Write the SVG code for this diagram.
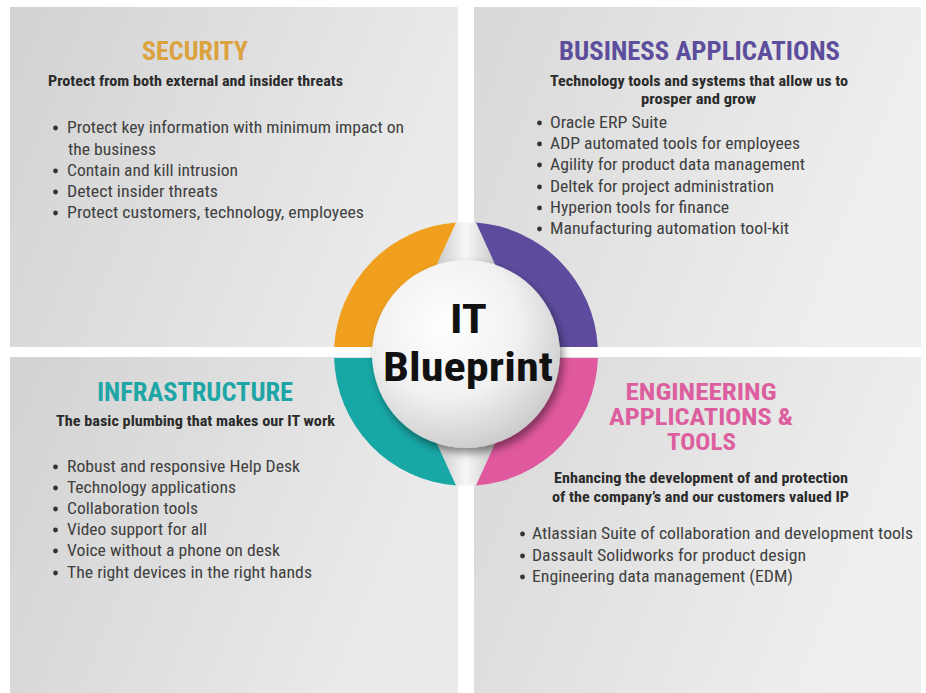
<svg xmlns="http://www.w3.org/2000/svg" width="926" height="693" viewBox="0 0 926 693">
  <style>
    text { font-family: 'Liberation Sans Narrow', 'Roboto Condensed', 'Liberation Sans', Roboto, sans-serif; }
    .h { font-size: 25px; font-weight: bold; text-anchor: middle; }
    .h2 { font-size: 23px; font-weight: bold; text-anchor: middle; fill: #dc5e9e; }
    .sub { font-size: 15px; font-weight: bold; fill: #2b2b2b; text-anchor: middle; }
    .li { font-size: 16px; fill: #404040; }
    .dot { fill: #333333; }
    .hub { font-size: 41px; font-weight: bold; fill: #111111; text-anchor: middle; }
  </style>
  <defs>
    <linearGradient id="panelL" x1="0" y1="0" x2="1" y2="0.3">
      <stop offset="0" stop-color="#d2d2d2"/>
      <stop offset="1" stop-color="#ebebeb"/>
    </linearGradient>
    <linearGradient id="panelR" x1="0" y1="0" x2="1" y2="0.3">
      <stop offset="0" stop-color="#d8d8d8"/>
      <stop offset="1" stop-color="#efefef"/>
    </linearGradient>
    <radialGradient id="ball" cx="0.4" cy="0.35" r="0.7">
      <stop offset="0" stop-color="#ffffff"/>
      <stop offset="0.55" stop-color="#f1f1f1"/>
      <stop offset="1" stop-color="#c9c9c9"/>
    </radialGradient>
    <linearGradient id="wedge" x1="0" y1="0" x2="1" y2="0">
      <stop offset="0" stop-color="#c8c8c8"/>
      <stop offset="0.5" stop-color="#f7f7f7"/>
      <stop offset="1" stop-color="#c8c8c8"/>
    </linearGradient>
    <filter id="shadow" x="-20%" y="-20%" width="150%" height="150%">
      <feDropShadow dx="3" dy="5" stdDeviation="4" flood-color="#000000" flood-opacity="0.45"/>
    </filter>
  </defs>

  <rect x="0" y="0" width="926" height="693" fill="#ffffff"/>

  <g id="security">
    <rect x="10" y="7" width="448" height="340" fill="url(#panelL)"/>
    <text class="h" x="195" y="60" fill="#dba23e" textLength="106" lengthAdjust="spacingAndGlyphs">SECURITY</text>
    <text class="sub" x="195.5" y="86" textLength="295" lengthAdjust="spacingAndGlyphs">Protect from both external and insider threats</text>
    <circle class="dot" cx="55.5" cy="128" r="2.4"/>
    <text class="li" x="67" y="133" textLength="337" lengthAdjust="spacingAndGlyphs">Protect key information with minimum impact on</text>
    <text class="li" x="68" y="155" textLength="88" lengthAdjust="spacingAndGlyphs">the business</text>
    <circle class="dot" cx="55.5" cy="171" r="2.4"/>
    <text class="li" x="67" y="176" textLength="171" lengthAdjust="spacingAndGlyphs">Contain and kill intrusion</text>
    <circle class="dot" cx="55.5" cy="192" r="2.4"/>
    <text class="li" x="67" y="197" textLength="151" lengthAdjust="spacingAndGlyphs">Detect insider threats</text>
    <circle class="dot" cx="55.5" cy="213" r="2.4"/>
    <text class="li" x="67" y="218" textLength="297" lengthAdjust="spacingAndGlyphs">Protect customers, technology, employees</text>
  </g>

  <g id="business-applications">
    <rect x="474" y="7" width="447" height="340" fill="url(#panelR)"/>
    <text class="h" x="699.5" y="60" fill="#5c4e9c" textLength="281" lengthAdjust="spacingAndGlyphs">BUSINESS APPLICATIONS</text>
    <text class="sub" x="699" y="86" textLength="298" lengthAdjust="spacingAndGlyphs">Technology tools and systems that allow us to</text>
    <text class="sub" x="698.5" y="104" textLength="115" lengthAdjust="spacingAndGlyphs">prosper and grow</text>
    <circle class="dot" cx="539.5" cy="123" r="2.4"/>
    <text class="li" x="550" y="128" textLength="117" lengthAdjust="spacingAndGlyphs">Oracle ERP Suite</text>
    <circle class="dot" cx="539.5" cy="144" r="2.4"/>
    <text class="li" x="550" y="149" textLength="250" lengthAdjust="spacingAndGlyphs">ADP automated tools for employees</text>
    <circle class="dot" cx="539.5" cy="165" r="2.4"/>
    <text class="li" x="550" y="170" textLength="255" lengthAdjust="spacingAndGlyphs">Agility for product data management</text>
    <circle class="dot" cx="539.5" cy="187" r="2.4"/>
    <text class="li" x="550" y="192" textLength="224" lengthAdjust="spacingAndGlyphs">Deltek for project administration</text>
    <circle class="dot" cx="539.5" cy="208" r="2.4"/>
    <text class="li" x="550" y="213" textLength="179" lengthAdjust="spacingAndGlyphs">Hyperion tools for finance</text>
    <circle class="dot" cx="539.5" cy="229" r="2.4"/>
    <text class="li" x="550" y="234" textLength="239" lengthAdjust="spacingAndGlyphs">Manufacturing automation tool-kit</text>
  </g>

  <g id="infrastructure">
    <rect x="10" y="357" width="448" height="336" fill="url(#panelL)"/>
    <text class="h" x="195" y="401" fill="#1ea6a6" textLength="196" lengthAdjust="spacingAndGlyphs">INFRASTRUCTURE</text>
    <text class="sub" x="195.5" y="426" textLength="279" lengthAdjust="spacingAndGlyphs">The basic plumbing that makes our IT work</text>
    <circle class="dot" cx="55.5" cy="467" r="2.4"/>
    <text class="li" x="67" y="472" textLength="233" lengthAdjust="spacingAndGlyphs">Robust and responsive Help Desk</text>
    <circle class="dot" cx="55.5" cy="488" r="2.4"/>
    <text class="li" x="67" y="493" textLength="169" lengthAdjust="spacingAndGlyphs">Technology applications</text>
    <circle class="dot" cx="55.5" cy="509" r="2.4"/>
    <text class="li" x="67" y="514" textLength="131" lengthAdjust="spacingAndGlyphs">Collaboration tools</text>
    <circle class="dot" cx="55.5" cy="530" r="2.4"/>
    <text class="li" x="67" y="535" textLength="140" lengthAdjust="spacingAndGlyphs">Video support for all</text>
    <circle class="dot" cx="55.5" cy="551" r="2.4"/>
    <text class="li" x="67" y="556" textLength="213" lengthAdjust="spacingAndGlyphs">Voice without a phone on desk</text>
    <circle class="dot" cx="55.5" cy="573" r="2.4"/>
    <text class="li" x="67" y="578" textLength="245" lengthAdjust="spacingAndGlyphs">The right devices in the right hands</text>
  </g>

  <g id="engineering-applications">
    <rect x="474" y="357" width="447" height="336" fill="url(#panelR)"/>
    <text class="h2" x="701" y="400" textLength="151" lengthAdjust="spacingAndGlyphs">ENGINEERING</text>
    <text class="h2" x="701" y="425" textLength="184" lengthAdjust="spacingAndGlyphs">APPLICATIONS &amp;</text>
    <text class="h2" x="701.5" y="450" textLength="69" lengthAdjust="spacingAndGlyphs">TOOLS</text>
    <text class="sub" x="701" y="483" textLength="294" lengthAdjust="spacingAndGlyphs">Enhancing the development of and protection</text>
    <text class="sub" x="700.5" y="502" textLength="297" lengthAdjust="spacingAndGlyphs">of the company’s and our customers valued IP</text>
    <circle class="dot" cx="522.5" cy="534" r="2.4"/>
    <text class="li" x="532" y="539" textLength="381" lengthAdjust="spacingAndGlyphs">Atlassian Suite of collaboration and development tools</text>
    <circle class="dot" cx="522.5" cy="556" r="2.4"/>
    <text class="li" x="532" y="561" textLength="274" lengthAdjust="spacingAndGlyphs">Dassault Solidworks for product design</text>
    <circle class="dot" cx="522.5" cy="577" r="2.4"/>
    <text class="li" x="532" y="582" textLength="261" lengthAdjust="spacingAndGlyphs">Engineering data management (EDM)</text>
  </g>

  <g id="connectors">
    <path d="M 456 222.4 L 476 222.4 L 496.7 268 L 435.3 268 Z" fill="url(#wedge)"/>
    <path d="M 456 485.6 L 476 485.6 L 496.7 440 L 435.3 440 Z" fill="url(#wedge)"/>
    <path d="M 334.2 347 A 132 132 0 0 1 456 222.4 L 435.3 268 A 91.3 91.3 0 0 0 375 347 Z" fill="#f0a01e"/>
    <path d="M 476 222.4 A 132 132 0 0 1 597.8 347 L 557 347 A 91.3 91.3 0 0 0 496.7 268 Z" fill="#5e4b9e"/>
    <path d="M 334.1 358 A 132 132 0 0 0 456 485.6 L 435.3 440 A 91.3 91.3 0 0 1 375 358 Z" fill="#17a8a6"/>
    <path d="M 597.9 358 A 132 132 0 0 1 476 485.6 L 496.7 440 A 91.3 91.3 0 0 0 557 358 Z" fill="#e0589e"/>
  </g>

  <g id="it-blueprint">
    <circle cx="466" cy="354" r="94" fill="url(#ball)" filter="url(#shadow)"/>
    <text class="hub" x="468.5" y="333" textLength="37" lengthAdjust="spacingAndGlyphs">IT</text>
    <text class="hub" x="468" y="381" textLength="170" lengthAdjust="spacingAndGlyphs">Blueprint</text>
  </g>
</svg>
